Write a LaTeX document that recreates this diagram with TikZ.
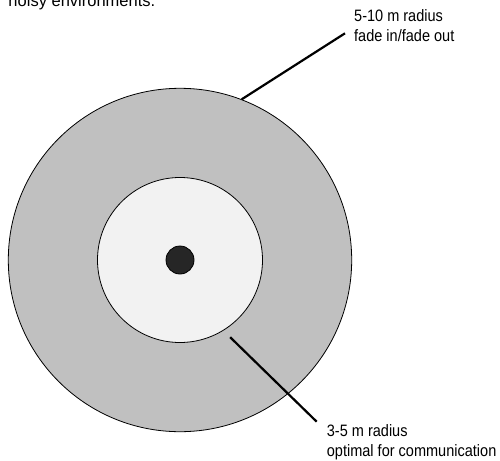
\documentclass[tikz,border=0pt]{standalone}
\usepackage{fontspec}
\setmainfont{Liberation Sans}
\newfontfamily\narrowfont[FakeStretch=0.88]{Liberation Sans}
\usetikzlibrary{calc}
\definecolor{ringgray}{HTML}{C0C0C0}
\definecolor{coregray}{HTML}{F2F2F2}
\definecolor{dotgray}{HTML}{262626}
\tikzset{
  zone/.style={ % image of a range circle
    circle, draw, line width=0.8pt, inner sep=0pt
  },
  radiuslabel/.style={ % two-line label of a range
    anchor=base west, align=left, inner sep=0pt,
    font=\narrowfont\fontsize{16.5}{20}\selectfont
  },
  pointer/.style={line width=2.2pt}
}

\begin{document}
\begin{tikzpicture}[x=1pt, y=-1pt]
      \useasboundingbox (0,0) rectangle (500,460);

      \node[anchor=base west, inner sep=0pt, font=\fontsize{16.5}{20}\selectfont] (caption) at (8.3,6.5) {noisy environments.};

      \node[zone, fill=ringgray, minimum size=343.4pt] (outer) at (180,260) {};
      \node[zone, fill=coregray, minimum size=165pt] (inner) at (180,260) {};
      \node[zone, fill=dotgray, minimum size=28pt] (dot) at (180,260) {};

      % base is the baseline of the last line
      \node[radiuslabel] (far) at (354,41.7) {5-10 m radius\\fade in/fade out};
      \node[radiuslabel] (near) at (326.7,456.5) {3-5 m radius\\optimal for communication};
      \coordinate (far_end) at (345,33.3);
      \coordinate (near_end) at (316.7,421.7);

      \draw[pointer] (outer.69) -- (far_end);
      \draw[pointer] ($(inner.center)!1.11!(inner.-57)$) -- (near_end);
    \end{tikzpicture}
\end{document}
